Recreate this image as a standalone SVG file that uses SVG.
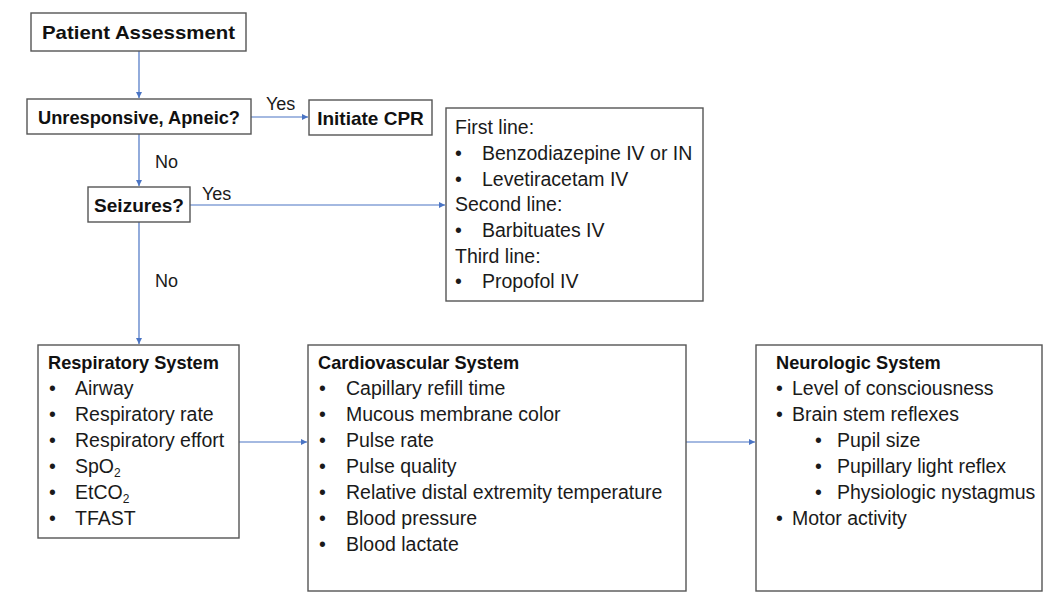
<svg xmlns="http://www.w3.org/2000/svg" width="1061" height="600" viewBox="0 0 1061 600">
<style>
.box{fill:#fff;stroke:#555;stroke-width:1.4}
.t{font-family:"Liberation Sans",Arial,sans-serif;font-size:19.5px;fill:#1a1a1a}
.b{font-family:"Liberation Sans",Arial,sans-serif;font-size:19px;font-weight:bold;fill:#111}
.h{font-size:18.2px}
.c{text-anchor:middle}
.lbl{font-family:"Liberation Sans",Arial,sans-serif;font-size:18px;fill:#1a1a1a}
.ln{fill:none;stroke:#4a74c4;stroke-width:1.2}
</style>
<defs>
<marker id="ah" viewBox="0 0 8 8" refX="8" refY="4" markerWidth="6" markerHeight="6" orient="auto" markerUnits="userSpaceOnUse">
<path d="M0,0 L8,4 L0,8 Z" fill="#4a74c4"/>
</marker>
</defs>
<rect width="1061" height="600" fill="#fff"/>
<g id="connectors">
<line class="ln" x1="139" y1="51" x2="139" y2="98" marker-end="url(#ah)"/>
<line class="ln" x1="251" y1="117" x2="308" y2="117" marker-end="url(#ah)"/>
<line class="ln" x1="139" y1="134" x2="139" y2="186" marker-end="url(#ah)"/>
<line class="ln" x1="190" y1="205" x2="445" y2="205" marker-end="url(#ah)"/>
<line class="ln" x1="139" y1="222" x2="139" y2="344" marker-end="url(#ah)"/>
<line class="ln" x1="239" y1="442" x2="307" y2="442" marker-end="url(#ah)"/>
<line class="ln" x1="686" y1="442" x2="755" y2="442" marker-end="url(#ah)"/>
<text class="lbl" x="266" y="110">Yes</text>
<text class="lbl" x="155" y="168">No</text>
<text class="lbl" x="202" y="200">Yes</text>
<text class="lbl" x="155" y="287">No</text>
</g>
<g id="patient-assessment">
<rect class="box" x="31" y="13" width="215" height="38"/>
<text class="b c" x="138.5" y="39" font-size="20" textLength="193" lengthAdjust="spacingAndGlyphs">Patient Assessment</text>
</g>
<g id="unresponsive">
<rect class="box" x="27" y="99" width="224" height="35"/>
<text class="b c" x="139" y="124" textLength="202" lengthAdjust="spacingAndGlyphs">Unresponsive, Apneic?</text>
</g>
<g id="initiate-cpr">
<rect class="box" x="309" y="100" width="123" height="35"/>
<text class="b c" x="370.5" y="125">Initiate CPR</text>
</g>
<g id="seizures">
<rect class="box" x="88" y="187" width="102" height="35"/>
<text class="b c" x="139" y="212">Seizures?</text>
</g>
<g id="seizure-treatment">
<rect class="box" x="446" y="108" width="257" height="193"/>
<text class="t" x="455" y="134">First line:</text>
<text class="t" x="455" y="160">•</text><text class="t" x="482" y="160">Benzodiazepine IV or IN</text>
<text class="t" x="455" y="186">•</text><text class="t" x="482" y="186">Levetiracetam IV</text>
<text class="t" x="455" y="211">Second line:</text>
<text class="t" x="455" y="237">•</text><text class="t" x="482" y="237">Barbituates IV</text>
<text class="t" x="455" y="263">Third line:</text>
<text class="t" x="455" y="288">•</text><text class="t" x="482" y="288">Propofol IV</text>
</g>
<g id="respiratory">
<rect class="box" x="38" y="345" width="201" height="193"/>
<text class="b h" x="48" y="369">Respiratory System</text>
<text class="t" x="49" y="395">•</text><text class="t" x="75" y="395">Airway</text>
<text class="t" x="49" y="421">•</text><text class="t" x="75" y="421">Respiratory rate</text>
<text class="t" x="49" y="447">•</text><text class="t" x="75" y="447">Respiratory effort</text>
<text class="t" x="49" y="473">•</text><text class="t" x="75" y="473">SpO<tspan font-size="12" dy="4">2</tspan></text>
<text class="t" x="49" y="499">•</text><text class="t" x="75" y="499">EtCO<tspan font-size="12" dy="4">2</tspan></text>
<text class="t" x="49" y="525">•</text><text class="t" x="75" y="525">TFAST</text>
</g>
<g id="cardiovascular">
<rect class="box" x="308" y="345" width="378" height="246"/>
<text class="b h" x="318" y="369">Cardiovascular System</text>
<text class="t" x="319" y="395">•</text><text class="t" x="346" y="395">Capillary refill time</text>
<text class="t" x="319" y="421">•</text><text class="t" x="346" y="421">Mucous membrane color</text>
<text class="t" x="319" y="447">•</text><text class="t" x="346" y="447">Pulse rate</text>
<text class="t" x="319" y="473">•</text><text class="t" x="346" y="473">Pulse quality</text>
<text class="t" x="319" y="499">•</text><text class="t" x="346" y="499">Relative distal extremity temperature</text>
<text class="t" x="319" y="525">•</text><text class="t" x="346" y="525">Blood pressure</text>
<text class="t" x="319" y="551">•</text><text class="t" x="346" y="551">Blood lactate</text>
</g>
<g id="neurologic">
<rect class="box" x="756" y="345" width="286" height="246"/>
<text class="b h" x="776" y="369">Neurologic System</text>
<text class="t" x="776" y="395">•</text><text class="t" x="792" y="395">Level of consciousness</text>
<text class="t" x="776" y="421">•</text><text class="t" x="792" y="421">Brain stem reflexes</text>
<text class="t" x="815" y="447">•</text><text class="t" x="837" y="447">Pupil size</text>
<text class="t" x="815" y="473">•</text><text class="t" x="837" y="473">Pupillary light reflex</text>
<text class="t" x="815" y="499">•</text><text class="t" x="837" y="499">Physiologic nystagmus</text>
<text class="t" x="776" y="525">•</text><text class="t" x="792" y="525">Motor activity</text>
</g>
</svg>
